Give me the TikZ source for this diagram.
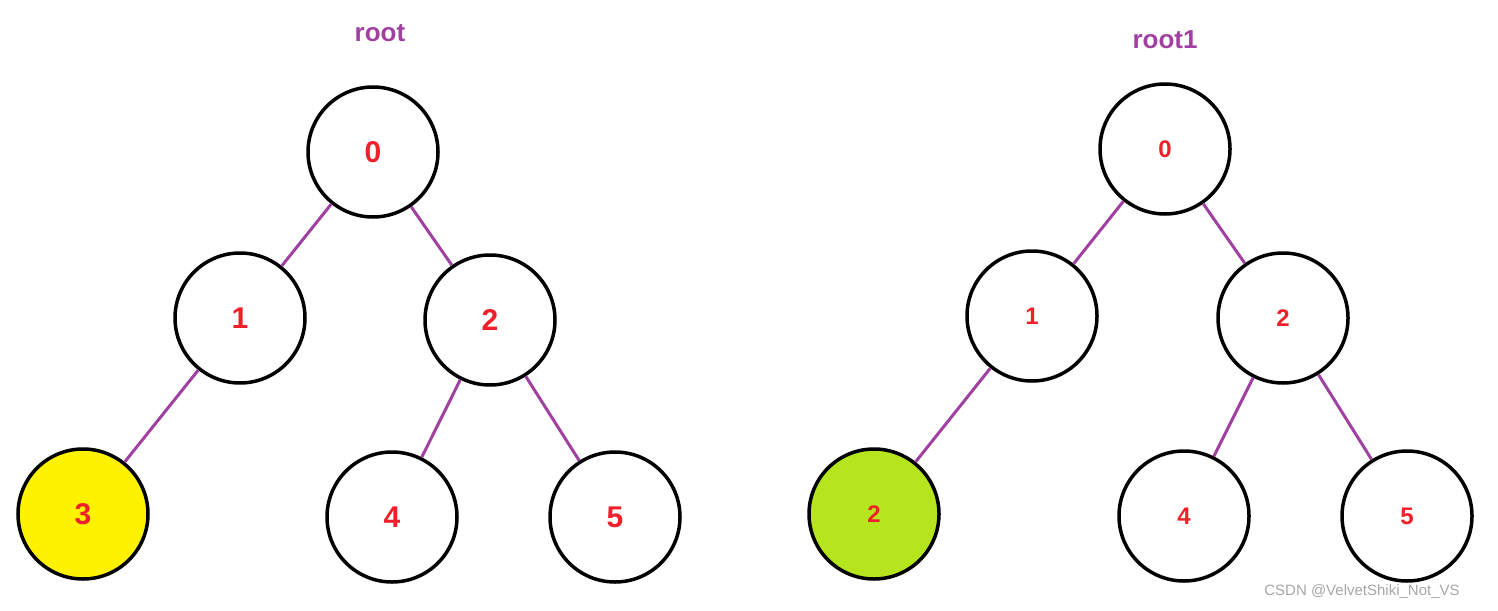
\documentclass[tikz,border=0pt]{standalone}
\usepackage{fontspec}
\setmainfont{Liberation Sans}
\definecolor{purp}{HTML}{A040A0}
\definecolor{numred}{HTML}{F0202A}
\definecolor{yel}{HTML}{FFF200}
\definecolor{grn}{HTML}{B5E61D}
\begin{document}
\begin{tikzpicture}[x=1pt,y=-1pt,
  tn/.style={circle,draw=black,line width=3.5pt,minimum size=130pt,inner sep=0pt,font=\fontsize{30}{30}\selectfont\bfseries,text=numred},
  tns/.style={tn,font=\fontsize{24}{24}\selectfont\bfseries},
  ed/.style={draw=purp,line width=3pt},
  lbl/.style={text=purp,font=\fontsize{26}{26}\selectfont\bfseries}]
\useasboundingbox (0,0) rectangle (1498,610);
\node[lbl] (r) at (380,33) {root};
\node[lbl] (r1) at (1165,40) {root1};
\node[tn] (a0) at (373,152) {0};
\node[tn] (a1) at (240,318) {1};
\node[tn] (a2) at (490,320) {2};
\node[tn,fill=yel] (a3) at (83,514) {3};
\node[tn] (a4) at (392,517) {4};
\node[tn] (a5) at (615,517) {5};
\node[tns] (b0) at (1165,149) {0};
\node[tns] (b1) at (1032,316) {1};
\node[tns] (b2) at (1283,318) {2};
\node[tns,fill=grn] (b3) at (874,514) {2};
\node[tns] (b4) at (1184,516) {4};
\node[tns] (b5) at (1407,516) {5};
\foreach \p/\c in {a0/a1,a0/a2,a1/a3,a2/a4,a2/a5,b0/b1,b0/b2,b1/b3,b2/b4,b2/b5}
  \draw[ed] (\p) -- (\c);
\node[text=gray!70,font=\fontsize{15}{15}\selectfont] (wm) at (1362,592) {CSDN @VelvetShiki\_Not\_VS};
\end{tikzpicture}
\end{document}
